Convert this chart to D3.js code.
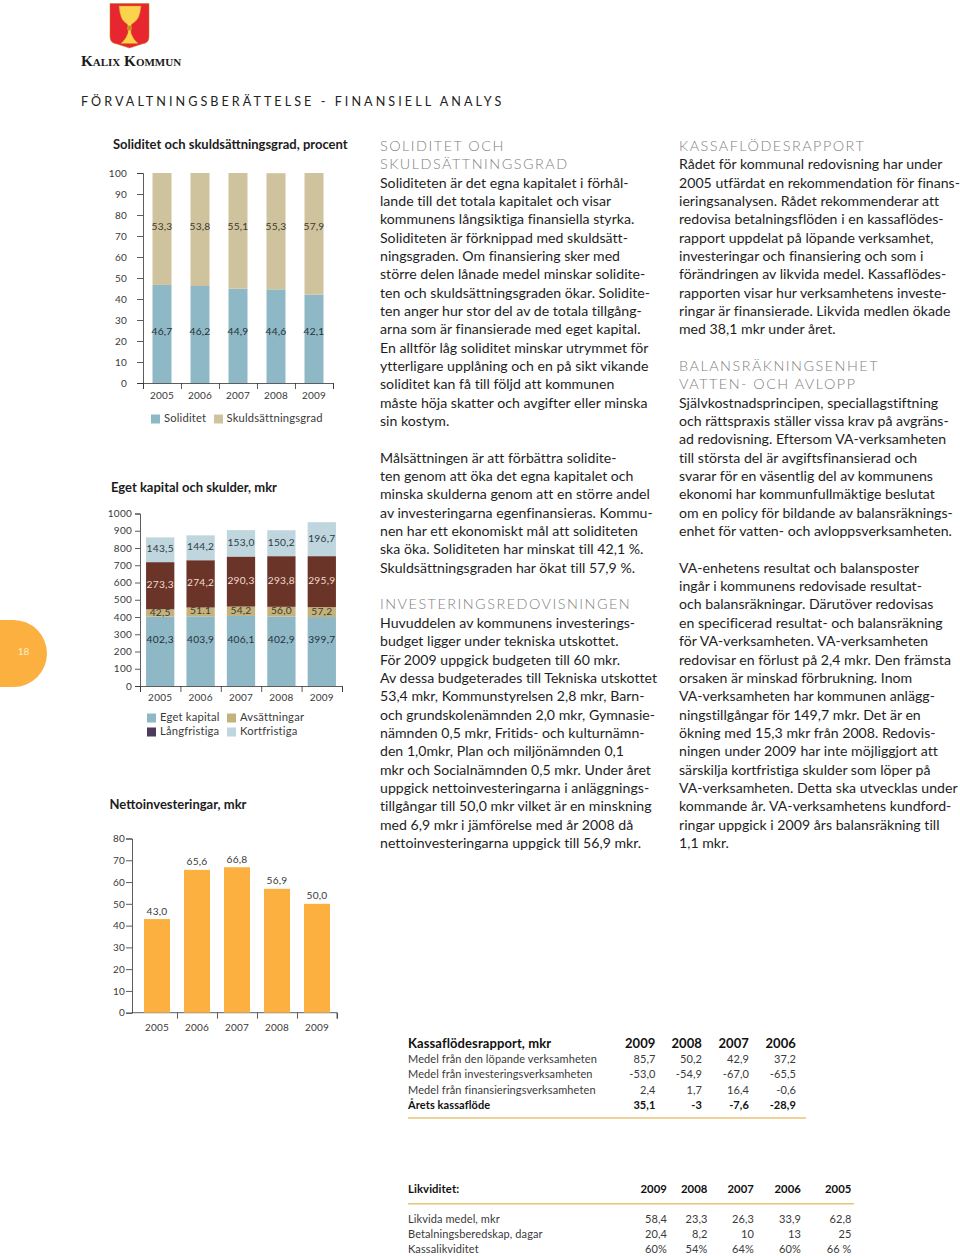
<!DOCTYPE html>
<html lang="sv"><head><meta charset="utf-8">
<script src="https://cdn.jsdelivr.net/npm/d3@7"></script>
<style>
html,body{margin:0;padding:0;background:#fff}
svg{display:block}
text{font-family:Lato,"Noto Sans",sans-serif}
</style></head><body><svg id="page" width="960" height="1256"></svg>
<script>
const years=["2005","2006","2007","2008","2009"];
// Chart 1
const soliditet=[46.7,46.2,44.9,44.6,42.1];
const skuldgrad=[53.3,53.8,55.1,55.3,57.9];
const ticks1=[0,10,20,30,40,50,60,70,80,90,100];
// Chart 2
const egetKapital=[402.3,403.9,406.1,402.9,399.7];
const avsattningar=[42.5,51.1,54.2,56.0,57.2];
const avsLabels=["42,5","51.1","54,2","56,0","57,2"];
const langfristiga=[273.3,274.2,290.3,293.8,295.9];
const kortfristiga=[143.5,144.2,153.0,150.2,196.7];
const ticks2=[0,100,200,300,400,500,600,700,800,900,1000];
// Chart 3
const netto=[43.0,65.6,66.8,56.9,50.0];
const ticks3=[0,10,20,30,40,50,60,70,80];
// Tables
const kfYears=["2009","2008","2007","2006"];
const kfRows=["Medel från den löpande verksamheten","Medel från investeringsverksamheten","Medel från finansieringsverksamheten"];
const kfValues=[["85,7","50,2","42,9","37,2"],["-53,0","-54,9","-67,0","-65,5"],["2,4","1,7","16,4","-0,6"]];
const kfTotal=["35,1","-3","-7,6","-28,9"];
const likYears=["2009","2008","2007","2006","2005"];
const likRows=["Likvida medel, mkr","Betalningsberedskap, dagar","Kassalikviditet"];
const likValues=[["58,4","23,3","26,3","33,9","62,8"],["20,4","8,2","10","13","25"],["60%","54%","64%","60%","66 %"]];
// Body copy: "#" = grey heading line, "" = blank line
const col1=["#SOLIDITET OCH","#SKULDSÄTTNINGSGRAD",
"Soliditeten är det egna kapitalet i förhål-","lande till det totala kapitalet och visar","kommunens långsiktiga finansiella styrka.","Soliditeten är förknippad med skuldsätt-","ningsgraden. Om finansiering sker med","större delen lånade medel minskar solidite-","ten och skuldsättningsgraden ökar. Solidite-","ten anger hur stor del av de totala tillgång-","arna som är finansierade med eget kapital.","En alltför låg soliditet minskar utrymmet för","ytterligare upplåning och en på sikt vikande","soliditet kan få till följd att kommunen","måste höja skatter och avgifter eller minska","sin kostym.","",
"Målsättningen är att förbättra solidite-","ten genom att öka det egna kapitalet och","minska skulderna genom att en större andel","av investeringarna egenfinansieras. Kommu-","nen har ett ekonomiskt mål att soliditeten","ska öka. Soliditeten har minskat till 42,1 %.","Skuldsättningsgraden har ökat till 57,9 %.","",
"#INVESTERINGSREDOVISNINGEN","Huvuddelen av kommunens investerings-","budget ligger under tekniska utskottet.","För 2009 uppgick budgeten till 60 mkr.","Av dessa budgeterades till Tekniska utskottet","53,4 mkr, Kommunstyrelsen 2,8 mkr, Barn-","och grundskolenämnden 2,0 mkr, Gymnasie-","nämnden 0,5 mkr, Fritids- och kulturnämn-","den 1,0mkr, Plan och miljönämnden 0,1","mkr och Socialnämnden 0,5 mkr. Under året","uppgick nettoinvesteringarna i anläggnings-","tillgångar till 50,0 mkr vilket är en minskning","med 6,9 mkr i jämförelse med år 2008 då","nettoinvesteringarna uppgick till 56,9 mkr."];
const col2=["#KASSAFLÖDESRAPPORT","Rådet för kommunal redovisning har under","2005 utfärdat en rekommendation för finans-","ieringsanalysen. Rådet rekommenderar att","redovisa betalningsflöden i en kassaflödes-","rapport uppdelat på löpande verksamhet,","investeringar och finansiering och som i","förändringen av likvida medel. Kassaflödes-","rapporten visar hur verksamhetens investe-","ringar är finansierade. Likvida medlen ökade","med 38,1 mkr under året.","",
"#BALANSRÄKNINGSENHET","#VATTEN- OCH AVLOPP","Självkostnadsprincipen, speciallagstiftning","och rättspraxis ställer vissa krav på avgräns-","ad redovisning. Eftersom VA-verksamheten","till största del är avgiftsfinansierad och","svarar för en väsentlig del av kommunens","ekonomi har kommunfullmäktige beslutat","om en policy för bildande av balansräknings-","enhet för vatten- och avloppsverksamheten.","",
"VA-enhetens resultat och balansposter","ingår i kommunens redovisade resultat-","och balansräkningar. Därutöver redovisas","en specificerad resultat- och balansräkning","för VA-verksamheten. VA-verksamheten","redovisar en förlust på 2,4 mkr. Den främsta","orsaken är minskad förbrukning. Inom","VA-verksamheten har kommunen anlägg-","ningstillgångar för 149,7 mkr. Det är en","ökning med 15,3 mkr från 2008. Redovis-","ningen under 2009 har inte möjliggjort att","särskilja kortfristiga skulder som löper på","VA-verksamheten. Detta ska utvecklas under","kommande år. VA-verksamhetens kundford-","ringar uppgick i 2009 års balansräkning till","1,1 mkr."];

const C={blue:"#8fb8c6",tan:"#cfc39e",brown:"#6b3429",avs:"#c3b27c",light:"#bfd6df",purple:"#4d3a5c",orange:"#fcb040",rule:"#e9c374",ink:"#3a3a3a",grey:"#7f7f7f"};
const comma=v=>d3.format(".1f")(v).replace(".",",");
const svg=d3.select("#page");

// Logo
const logo=svg.append("g");
logo.append("path").attr("d","M110 3.5H149V37Q149 43 142 44L129.500 48L117 44Q110 43 110 37Z").attr("fill","#e8262f").attr("stroke","#b5851f").attr("stroke-width",.5);
logo.append("path").attr("d","M119 6H141Q140 19 134 22.500Q131 24 131 26V33Q133 39 138 43.500H121Q126 39 128 33V26Q128 24 125 22.500Q120 19 119 6Z").attr("fill","#fcd34d").attr("stroke","#c8961e").attr("stroke-width",.4);
logo.append("circle").attr("cx",129.5).attr("cy",28).attr("r",2.6).attr("fill","#c98f1f");
logo.append("text").attr("x",81).attr("y",66).attr("font-size",15.2).attr("font-weight",700).attr("fill","#1a1a1a").style("font-family","'Liberation Serif',serif").style("font-variant","small-caps").text("Kalix Kommun");
svg.append("text").attr("x",81).attr("y",106).attr("font-size",12.6).attr("letter-spacing",3.05).attr("fill","#222").text("FÖRVALTNINGSBERÄTTELSE - FINANSIELL ANALYS");

// Page tab
const tab=d3.path();tab.moveTo(0,620);tab.lineTo(13.500,620);tab.arc(13.500,653.500,33.500,-Math.PI/2,Math.PI/2);tab.lineTo(0,687);tab.closePath();
svg.append("path").attr("d",tab.toString()).attr("fill",C.orange);
svg.append("text").attr("x",23.500).attr("y",655).attr("text-anchor","middle").attr("font-size",10).attr("fill","#fdeccb").text("18");

function title(t,x,y){svg.append("text").attr("x",x).attr("y",y).attr("font-size",13).attr("font-weight",700).attr("fill","#1c1c1c").text(t);}
function axes(o){
  const {x0,x1,y0,y1,domainMax,ticks,lab,labY,bp,labX0,tickLen}=o;
  const y=d3.scaleLinear().domain([0,domainMax]).range([y0,y1]);
  const x=d3.scaleBand().domain(years).range([labX0??x0,x1]).paddingInner(bp).paddingOuter(bp/2);
  const g=svg.append("g");
  g.append("g").attr("transform",`translate(${x0},0)`).call(d3.axisLeft(y).tickValues(ticks).tickSize(tickLen).tickPadding(lab).tickFormat(d3.format("d")));
  const edges=d3.scaleLinear().domain([0,5]).range([labX0??x0,x1]);
  const xa=g.append("g").attr("transform",`translate(0,${y0})`).call(d3.axisBottom(edges).tickValues(labX0?[1,2,3,4,5]:[0,1,2,3,4,5]).tickSize(6).tickFormat(""));
  if(labX0) xa.select(".domain").attr("d",`M${x0},0H${x1}V6`);
  const xl=g.append("g").attr("transform",`translate(0,${labY})`).call(d3.axisBottom(x).tickSize(0).tickPadding(0));
  xl.select(".domain").remove();
  g.selectAll(".domain,.tick line").attr("stroke","#333").attr("stroke-width",.8);
  g.selectAll("text").attr("font-size",10).attr("letter-spacing",.25).attr("fill",C.ink).style("font-family","Lato,sans-serif");
  return {x,y};
}
function labels(vals,txt,xs,ys,fill){
  svg.append("g").selectAll("text").data(vals).join("text").attr("x",(d,i)=>xs(years[i])+xs.bandwidth()/2).attr("y",(d,i)=>ys(d,i)).attr("text-anchor","middle").attr("dominant-baseline","middle").attr("font-size",10.2).attr("letter-spacing",.25).attr("fill",fill).text((d,i)=>txt(d,i));
}
function legend(items){
  const g=svg.append("g");
  g.selectAll("rect").data(items).join("rect").attr("x",d=>d.x).attr("y",d=>d.y-4.5).attr("width",9).attr("height",9).attr("fill",d=>d.c);
  g.selectAll("text").data(items).join("text").attr("x",d=>d.tx).attr("y",d=>d.y).attr("dominant-baseline","middle").attr("font-size",11.2).attr("letter-spacing",.2).attr("fill",C.ink).text(d=>d.t);
}

// Chart 1
title("Soliditet och skuldsättningsgrad, procent",113,149);
{
  const {x,y}=axes({x0:143,x1:333,y0:383,y1:173,domainMax:100,ticks:ticks1,lab:10,labY:392,bp:.5,tickLen:6});
  const stack=d3.stack().keys([0,1]).value((d,k)=>d[k])(d3.zip(soliditet,skuldgrad));
  [C.blue,C.tan].forEach((c,k)=>{
    svg.append("g").selectAll("rect").data(stack[k]).join("rect").attr("x",(d,i)=>x(years[i])).attr("width",x.bandwidth()).attr("y",d=>y(Math.min(d[1],100))).attr("height",d=>y(d[0])-y(Math.min(d[1],100))).attr("fill",c);
  });
  labels(skuldgrad,comma,x,()=>y(74.3),"#3d3a2e");
  labels(soliditet,comma,x,()=>y(24.1),"#243238");
  legend([{t:"Soliditet",c:C.blue,x:151,tx:164,y:419},{t:"Skuldsättningsgrad",c:C.tan,x:214,tx:226.500,y:419}]);
}
// Chart 2
title("Eget kapital och skulder, mkr",111,492);
{
  const {x,y}=axes({x0:140,x1:342,y0:686,y1:513.500,domainMax:1000,ticks:ticks2,lab:3,labY:694,bp:.3,tickLen:5});
  const series=[egetKapital,avsattningar,langfristiga,kortfristiga];
  const stack=d3.stack().keys([0,1,2,3]).value((d,k)=>d[k])(d3.zip(...series));
  [C.blue,C.avs,C.brown,C.light].forEach((c,k)=>{
    svg.append("g").selectAll("rect").data(stack[k]).join("rect").attr("x",(d,i)=>x(years[i])).attr("width",x.bandwidth()).attr("y",d=>y(d[1])).attr("height",d=>y(d[0])-y(d[1])).attr("fill",c);
  });
  const mid=k=>(d,i)=>y((stack[k][i][0]+stack[k][i][1])/2);
  labels(egetKapital,comma,x,(d)=>y(d*.655),"#243238");
  labels(avsattningar,(d,i)=>avsLabels[i],x,mid(1),"#3d3a2e");
  labels(langfristiga,comma,x,mid(2),"#f0dccd");
  labels(kortfristiga,comma,x,mid(3),"#2f3b40");
  legend([{t:"Eget kapital",c:C.blue,x:147,tx:160,y:718},{t:"Avsättningar",c:C.avs,x:227,tx:240,y:718},{t:"Långfristiga",c:C.purple,x:147,tx:160,y:732},{t:"Kortfristiga",c:C.light,x:227,tx:240,y:732}]);
}
// Chart 3
title("Nettoinvesteringar, mkr",109.500,809);
{
  const {x,y}=axes({x0:132,x1:337,y0:1012.700,y1:838.500,domainMax:80,ticks:ticks3,lab:1,labY:1024,bp:.35,labX0:137,tickLen:6});
  svg.append("g").selectAll("rect").data(netto).join("rect").attr("x",(d,i)=>x(years[i])).attr("width",x.bandwidth()).attr("y",d=>y(d)).attr("height",d=>y(0)-y(d)).attr("fill",C.orange);
  labels(netto,comma,x,d=>y(d)-7,C.ink);
}

// Body copy
const lineY=d3.scaleLinear().domain([0,36]).range([187.500,848]);
function column(lines,x,start){
  const g=svg.append("g");
  g.selectAll("text").data(lines.map((t,i)=>({t,n:start+i})).filter(d=>d.t)).join("text")
    .attr("x",x).attr("y",d=>lineY(d.n))
    .attr("font-size",d=>d.t[0]==="#"?14.4:14.1)
    .attr("font-weight",d=>d.t[0]==="#"?300:400)
    .attr("letter-spacing",d=>d.t[0]==="#"?1.5:0.02)
    .attr("fill",d=>d.t[0]==="#"?C.grey:"#1e1e1e")
    .text(d=>d.t.replace(/^#/,""));
}
column(col1,380,-2);
column(col2,679,-2);

// Tables
function table(o){
  const g=svg.append("g");
  const put=(t,x,y,anc,sz,w,fill)=>g.append("text").attr("x",x).attr("y",y).attr("text-anchor",anc).attr("font-size",sz).attr("font-weight",w).attr("letter-spacing",.1).attr("fill",fill).text(t);
  put(o.head,408,o.headY,"start",o.headSize,700,"#111");
  o.years.forEach((t,j)=>put(t,o.cols[j],o.headY,"end",o.headSize,700,"#111"));
  o.rows.forEach((t,i)=>{put(t,408,o.rowY[i],"start",11,400,C.ink);o.values[i].forEach((v,j)=>put(v,o.cols[j],o.rowY[i],"end",11,400,C.ink));});
  if(o.total){put(o.total.t,408,o.total.y,"start",11,700,"#111");o.total.v.forEach((v,j)=>put(v,o.cols[j],o.total.y,"end",11,700,"#111"));}
  g.append("line").attr("x1",408).attr("x2",o.ruleEnd).attr("y1",o.ruleY).attr("y2",o.ruleY).attr("stroke",C.rule).attr("stroke-width",1.6);
}
table({head:"Kassaflödesrapport, mkr",headY:1047.500,headSize:13,years:kfYears,cols:[655.500,702,749,796],rows:kfRows,values:kfValues,rowY:[1062.500,1078,1093.500],total:{t:"Årets kassaflöde",y:1108.500,v:kfTotal},ruleY:1118,ruleEnd:806});
table({head:"Likviditet:",headY:1193,headSize:11.300,years:likYears,cols:[667,707.500,754,801,851.500],rows:likRows,values:likValues,rowY:[1223,1238,1253],ruleY:1203.800,ruleEnd:854});
</script></body></html>
